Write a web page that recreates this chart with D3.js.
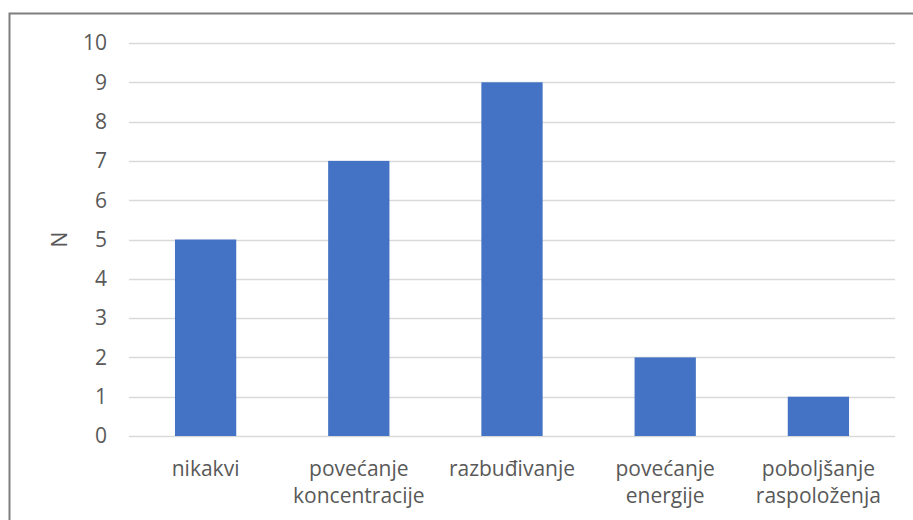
<!DOCTYPE html>
<html>
<head>
<meta charset="utf-8">
<script src="https://cdn.jsdelivr.net/npm/d3@7"></script>
<style>
  body { margin: 0; background: #fff; }
  text { font-family: "Open Sans", "Liberation Sans", sans-serif; fill: #595959; }
</style>
</head>
<body>
<div id="chart"></div>
<script>
// Chart data
const categories = [
  ['nikakvi'],
  ['povećanje', 'koncentracije'],
  ['razbuđivanje'],
  ['povećanje', 'energije'],
  ['poboljšanje', 'raspoloženja']
];
const values = [5, 7, 9, 2, 1];
const yTicks = [0, 1, 2, 3, 4, 5, 6, 7, 8, 9, 10];

const width = 913, height = 520;
const margin = { left: 129, right: 18, top: 43, bottom: 84 };

const svg = d3.select('#chart').append('svg')
  .attr('width', width)
  .attr('height', height);

// outer chart border (left and top visible)
svg.append('rect')
  .attr('x', 9.5).attr('y', 13.5)
  .attr('width', width + 20).attr('height', height + 20)
  .attr('fill', 'none')
  .attr('stroke', '#7f7f7f')
  .attr('stroke-width', 2);

const x = d3.scaleBand()
  .domain(d3.range(categories.length))
  .range([margin.left, width - margin.right])
  .paddingInner(0.6)
  .paddingOuter(0.3);

const y = d3.scaleLinear()
  .domain([0, 10])
  .range([height - margin.bottom, margin.top]);

// gridlines
svg.append('g')
  .selectAll('line')
  .data(yTicks)
  .enter().append('line')
    .attr('x1', margin.left)
    .attr('x2', width - margin.right)
    .attr('y1', d => Math.round(y(d)) + 0.5)
    .attr('y2', d => Math.round(y(d)) + 0.5)
    .attr('stroke', '#d9d9d9')
    .attr('stroke-width', 1.3);

// y tick labels
svg.append('g')
  .selectAll('text')
  .data(yTicks)
  .enter().append('text')
    .attr('x', 107)
    .attr('y', d => y(d))
    .attr('dy', '0.35em')
    .attr('text-anchor', 'end')
    .style('font-size', '21px')
    .text(d => d);

// bars
svg.append('g')
  .selectAll('rect')
  .data(values)
  .enter().append('rect')
    .attr('x', (d, i) => x(i))
    .attr('width', x.bandwidth())
    .attr('y', d => y(d))
    .attr('height', d => y(0) - y(d))
    .attr('fill', '#4472c4');

// category labels
const labels = svg.append('g')
  .selectAll('text')
  .data(categories)
  .enter().append('text')
    .attr('text-anchor', 'middle')
    .style('font-size', '21px');

labels.selectAll('tspan')
  .data((d, i) => d.map(t => ({ t, i })))
  .enter().append('tspan')
    .attr('x', d => x(d.i) + x.bandwidth() / 2)
    .attr('y', (d, j) => 476 + j * 27)
    .text(d => d.t);

// y axis title
svg.append('text')
  .attr('transform', `translate(67, ${y(5)}) rotate(-90)`)
  .attr('text-anchor', 'middle')
  .style('font-size', '21px')
  .text('N');
</script>
</body>
</html>
